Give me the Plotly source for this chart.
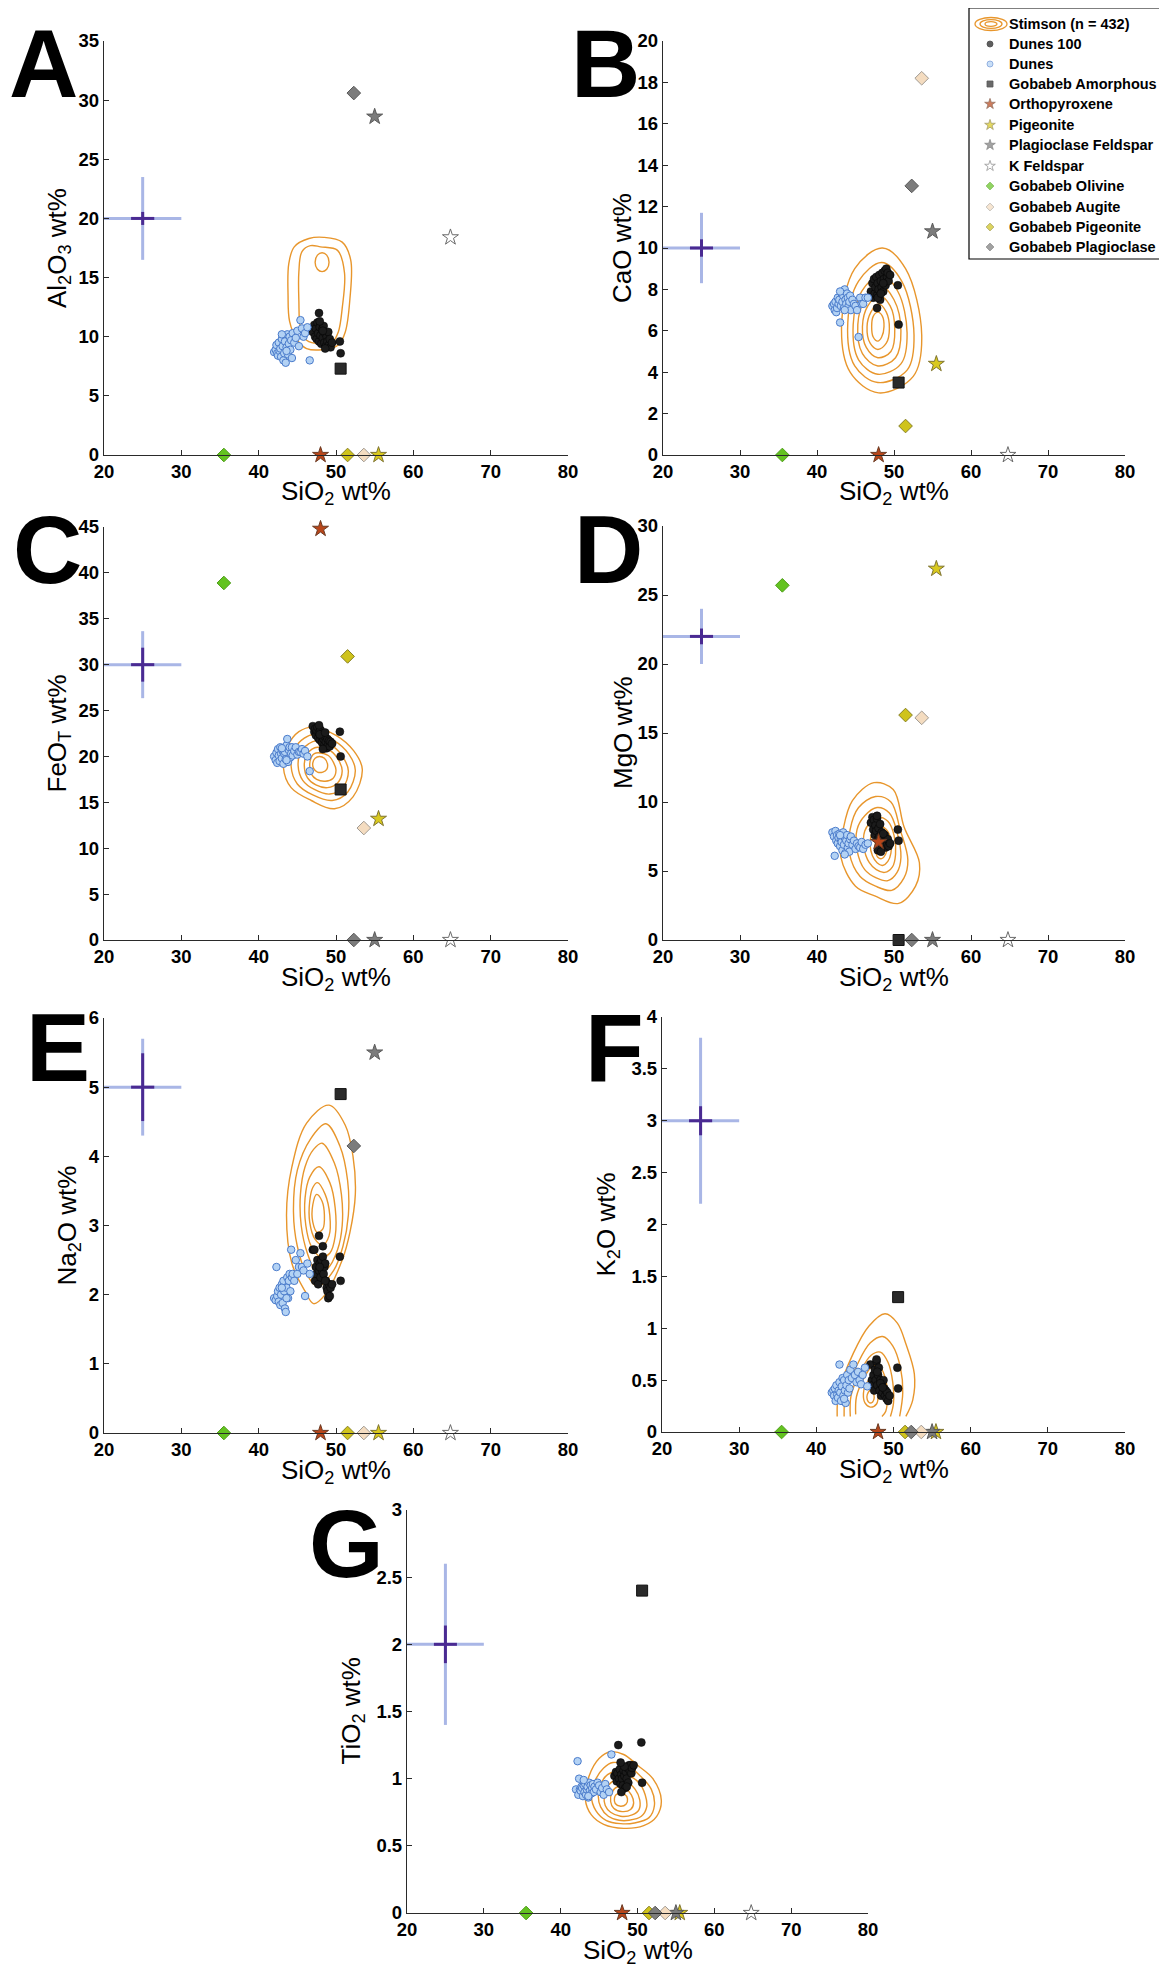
import plotly.graph_objects as go

# page geometry (the html body adds an 8 px margin, compensated below)
PAGE_W, PAGE_H = 1167, 1969
OFF = 8
W, H = PAGE_W - OFF, PAGE_H - OFF
FONT = "Liberation Sans, Arial, Helvetica, sans-serif"

# ---------------- data ----------------
panel_letters = ["A", "B", "C", "D", "E", "F", "G"]
y_titles = ["Al<sub>2</sub>O<sub>3</sub> wt%", "CaO wt%", "FeO<sub>T</sub> wt%", "MgO wt%",
            "Na<sub>2</sub>O wt%", "K<sub>2</sub>O wt%", "TiO<sub>2</sub> wt%"]
x_title = "SiO<sub>2</sub> wt%"
y_max = [35, 20, 45, 30, 6, 4, 3]
y_dtick = [5, 2, 5, 5, 1, 0.5, 0.5]
x_ticks = [20, 30, 40, 50, 60, 70, 80]

# Dunes 100 (black)
d100_sio2 = [47.0, 47.2, 47.3, 47.4, 47.5, 47.6, 47.7, 47.8, 47.9, 48.0, 48.1, 48.2, 48.3, 48.4, 48.5,
             48.6, 48.7, 48.8, 48.9, 49.0, 49.1, 49.2, 49.3, 49.5, 47.9, 48.3, 48.6, 47.8, 50.5, 50.6]
d100_al2o3 = [10.4, 11.0, 10.0, 10.7, 9.8, 11.2, 10.3, 9.6, 10.8, 10.1, 9.4, 10.6, 9.9, 10.9, 9.5,
              10.3, 9.2, 10.0, 9.6, 10.4, 9.3, 9.8, 9.1, 9.5, 11.3, 10.5, 9.0, 12.0, 9.6, 8.6]
d100_cao = [7.9, 8.3, 7.6, 8.5, 7.8, 8.1, 8.6, 7.7, 8.3, 8.0, 8.7, 7.5, 8.4, 8.1, 8.8,
            7.9, 8.5, 8.9, 8.2, 9.0, 8.6, 8.8, 8.4, 8.7, 7.6, 7.8, 8.3, 7.1, 8.2, 6.3]
d100_feot = [23.3, 22.7, 23.0, 22.3, 22.8, 23.2, 22.0, 22.6, 21.8, 22.9, 22.2, 21.5, 22.5, 21.9, 21.2,
             22.1, 21.6, 20.9, 21.9, 21.3, 21.7, 21.1, 21.6, 21.4, 22.4, 20.8, 22.6, 23.4, 22.7, 20.0]
d100_mgo = [8.5, 8.9, 8.0, 8.7, 7.6, 8.3, 7.9, 8.8, 7.3, 8.1, 7.5, 8.4, 7.1, 7.8, 6.8,
            7.4, 7.0, 7.6, 6.7, 7.2, 6.9, 7.3, 6.8, 7.0, 6.5, 6.4, 7.7, 9.0, 8.0, 7.2]
d100_na2o = [2.65, 2.65, 2.2, 2.4, 2.3, 2.5, 2.15, 2.35, 2.45, 2.25, 2.5, 2.35, 2.55, 2.3, 2.4,
             2.45, 2.2, 2.1, 2.05, 1.95, 2.15, 1.98, 2.1, 2.15, 2.4, 2.7, 2.2, 2.85, 2.55, 2.2]
d100_k2o = [0.65, 0.5, 0.45, 0.55, 0.4, 0.6, 0.5, 0.68, 0.45, 0.55, 0.62, 0.4, 0.5, 0.35, 0.45,
            0.38, 0.5, 0.42, 0.35, 0.4, 0.32, 0.38, 0.3, 0.35, 0.58, 0.47, 0.43, 0.7, 0.62, 0.42]
d100_tio2 = [1.02, 1.05, 0.98, 1.04, 1.25, 1.0, 1.07, 0.96, 1.03, 1.0, 0.95, 1.06, 1.02, 0.93, 1.05,
             1.0, 1.08, 0.97, 1.1, 1.06, 1.1, 1.04, 1.08, 1.1, 0.9, 1.09, 0.94, 1.12, 1.27, 0.97]

# Dunes (light blue)
du_sio2 = [42.0, 42.2, 42.3, 42.4, 42.5, 42.6, 42.7, 42.8, 42.9, 43.0, 43.1, 43.2, 43.3, 43.4, 43.5, 43.6,
           43.7, 43.8, 43.9, 44.0, 44.1, 44.2, 44.3, 44.4, 44.6, 44.8, 45.0, 45.2, 45.4, 45.6, 45.8, 46.0,
           46.3, 46.6, 43.0, 43.6]
du_al2o3 = [8.7, 8.9, 9.3, 8.6, 8.4, 9.5, 8.8, 9.0, 8.3, 9.8, 9.2, 8.0, 8.6, 9.6, 7.8, 9.1,
            10.2, 8.5, 9.4, 10.0, 8.9, 9.7, 8.2, 10.3, 9.5, 9.9, 10.5, 9.2, 11.4, 10.7, 10.0, 10.3,
            10.8, 8.0, 10.2, 8.8]
du_cao = [7.2, 7.3, 7.0, 7.4, 6.9, 7.1, 7.6, 7.3, 7.5, 6.4, 7.2, 7.8, 7.4, 7.7, 7.1, 8.0,
          7.5, 7.3, 7.8, 7.6, 7.2, 7.4, 7.7, 7.0, 7.5, 7.3, 7.2, 7.0, 5.7, 7.6, 7.3, 7.3,
          7.6, 7.6, 7.9, 7.0]
du_feot = [20.0, 19.6, 20.4, 19.3, 20.8, 20.1, 19.5, 21.0, 20.3, 19.8, 20.6, 19.2, 20.3, 20.5, 19.7, 21.2,
           21.9, 19.4, 20.7, 21.0, 19.9, 20.3, 21.0, 20.1, 20.6, 21.0, 20.2, 20.5, 20.5, 20.8, 20.3, 20.6,
           20.0, 18.4, 20.9, 19.6]
du_mgo = [7.8, 7.5, 6.1, 7.9, 7.2, 7.6, 7.0, 7.4, 7.7, 6.8, 7.3, 7.1, 6.5, 7.8, 6.9, 7.4,
          6.3, 7.2, 7.6, 6.7, 7.0, 6.4, 7.3, 7.5, 6.9, 7.2, 6.6, 7.0, 6.8, 6.7, 7.1, 6.6,
          6.9, 7.0, 7.6, 6.2]
du_na2o = [1.95, 1.92, 2.4, 1.98, 2.05, 1.9, 2.1, 1.85, 2.0, 2.15, 1.88, 2.2, 2.05, 1.8, 1.75, 2.1,
           2.25, 1.95, 2.2, 2.3, 2.05, 2.65, 2.25, 2.3, 2.2, 2.5, 2.3, 2.4, 2.6, 2.4, 2.35, 1.98,
           2.45, 2.3, 2.1, 1.95]
du_k2o = [0.38, 0.4, 0.35, 0.42, 0.3, 0.45, 0.36, 0.33, 0.4, 0.48, 0.38, 0.3, 0.44, 0.52, 0.35, 0.5,
          0.4, 0.28, 0.45, 0.55, 0.38, 0.5, 0.42, 0.6, 0.52, 0.65, 0.55, 0.48, 0.58, 0.5, 0.46, 0.55,
          0.62, 0.44, 0.65, 0.32]
du_tio2 = [0.92, 1.13, 0.88, 1.0, 0.92, 0.91, 0.94, 0.93, 0.87, 0.95, 0.9, 0.96, 0.88, 0.92, 0.94, 0.86,
           0.97, 0.91, 0.95, 0.89, 0.93, 0.96, 0.9, 0.94, 0.92, 0.97, 0.95, 0.9, 0.93, 0.88, 0.96, 0.92,
           0.9, 1.18, 0.99, 0.87]

# Minerals / reference compositions
mineral_names = ["Gobabeb Amorphous", "Orthopyroxene", "Pigeonite", "Plagioclase Feldspar", "K Feldspar",
                 "Gobabeb Olivine", "Gobabeb Augite", "Gobabeb Pigeonite", "Gobabeb Plagioclase"]
mineral_sio2 = [50.6, 48.0, 55.5, 55.0, 64.8, 35.5, 53.6, 51.5, 52.3]
mineral_al2o3 = [7.3, 0, 0, 28.6, 18.4, 0, 0, 0, 30.6]
mineral_cao = [3.5, 0, 4.4, 10.8, 0, 0, 18.2, 1.4, 13.0]
mineral_feot = [16.4, 44.8, 13.2, 0, 0, 38.9, 12.2, 30.9, 0]
mineral_mgo = [0, 7.1, 26.9, 0, 0, 25.7, 16.1, 16.3, 0]
mineral_na2o = [4.9, 0, 0, 5.5, 0, 0, 0, 0, 4.15]
mineral_k2o = [1.3, 0, 0, 0, None, 0, 0, 0, 0]
mineral_tio2 = [2.4, 0, 0, 0, 0, 0, 0, 0, 0]

# Uncertainty cross (centre and half-widths)
cross_x = 25
cross_xerr_outer = 5
cross_xerr_inner = 1.5
cross_y = [20, 10, 30, 22, 5, 3, 2]
cross_yerr_outer = [3.5, 1.7, 3.65, 2.0, 0.7, 0.8, 0.6]
cross_yerr_inner = [0.55, 0.42, 1.85, 0.57, 0.49, 0.14, 0.14]

# Stimson density contours (rings, SiO2 vs oxide)
stimson_A = [
    [(48.4, 18.4), (50.8, 18.0), (51.9, 16.5), (51.8, 13.2), (51.2, 10.4), (50.3, 9.3), (48.2, 8.9), (46.2, 9.0),
     (45.0, 9.7), (44.0, 11.3), (43.8, 13.5), (43.9, 16.2), (44.6, 17.6), (46.5, 18.3)],
    [(48.0, 17.6), (50.2, 17.3), (51.1, 15.4), (50.8, 12.4), (50.3, 10.4), (49.6, 9.6), (47.9, 9.4), (46.2, 9.7),
     (45.4, 10.8), (45.2, 13.0), (45.2, 15.5), (45.6, 17.2), (46.7, 17.7)],
    [(48.2, 17.1), (48.8, 16.9), (49.1, 16.3), (48.8, 15.7), (48.2, 15.5), (47.6, 15.7), (47.3, 16.3), (47.6, 16.9)],
]
stimson_B = [
    [(48.5, 10.0), (51.5, 9.0), (53.6, 5.8), (52.5, 3.8), (48.0, 3.0), (44.3, 4.0), (43.2, 6.4), (44.9, 9.0)],
    [(48.4, 9.3), (51.0, 8.4), (52.6, 5.8), (51.7, 4.1), (47.9, 3.5), (44.9, 4.3), (44.0, 6.4), (45.4, 8.4)],
    [(48.3, 8.7), (50.5, 7.9), (51.7, 5.9), (50.9, 4.4), (47.9, 3.9), (45.4, 4.6), (44.7, 6.3), (45.8, 7.9)],
    [(48.2, 8.2), (50.0, 7.5), (50.9, 6.0), (50.2, 4.7), (47.9, 4.3), (45.9, 4.9), (45.3, 6.3), (46.2, 7.5)],
    [(48.1, 7.7), (49.5, 7.2), (50.1, 6.1), (49.6, 5.0), (47.9, 4.7), (46.4, 5.2), (45.9, 6.2), (46.6, 7.2)],
    [(48.0, 7.3), (49.0, 6.9), (49.4, 6.1), (49.0, 5.4), (47.9, 5.1), (46.9, 5.4), (46.5, 6.2), (47.0, 6.9)],
    [(47.9, 6.9), (48.5, 6.7), (48.7, 6.2), (48.4, 5.7), (47.9, 5.5), (47.3, 5.7), (47.1, 6.2), (47.3, 6.7)],
]
stimson_C = [
    [(47.0, 23.2), (50.0, 22.3), (52.3, 20.6), (53.4, 18.6), (52.2, 15.6), (49.8, 14.3), (46.8, 15.2), (44.2, 16.6),
     (43.2, 18.8), (43.8, 21.2), (45.2, 22.7)],
    [(47.2, 22.4), (49.8, 21.7), (51.7, 20.2), (52.5, 18.5), (51.5, 16.1), (49.5, 15.2), (47.0, 15.8), (45.0, 17.0),
     (44.2, 18.9), (44.7, 20.9), (45.9, 22.0)],
    [(47.4, 21.7), (49.6, 21.1), (51.0, 19.8), (51.6, 18.4), (50.9, 16.6), (49.2, 15.9), (47.2, 16.4), (45.7, 17.4),
     (45.1, 19.0), (45.5, 20.6), (46.5, 21.4)],
    [(47.6, 21.0), (49.3, 20.6), (50.4, 19.5), (50.8, 18.4), (50.2, 17.1), (48.9, 16.6), (47.4, 16.9), (46.3, 17.7),
     (45.9, 19.0), (46.2, 20.2), (46.9, 20.8)],
    [(47.7, 20.4), (49.0, 20.1), (49.7, 19.3), (50.0, 18.5), (49.6, 17.6), (48.6, 17.3), (47.5, 17.5), (46.8, 18.1),
     (46.6, 19.1), (46.8, 19.9), (47.2, 20.3)],
    [(47.85, 20.0), (48.5, 19.8), (48.9, 19.2), (48.8, 18.6), (48.3, 18.3), (47.6, 18.3), (47.1, 18.7), (47.0, 19.3),
     (47.3, 19.8)],
]
stimson_D = [
    [(47.4, 11.4), (49.9, 10.9), (51.3, 8.2), (53.3, 5.6), (52.8, 3.9), (50.6, 2.65), (47.5, 3.2), (45.0, 3.9),
     (43.1, 6.0), (43.4, 8.0), (44.6, 10.1)],
    [(47.6, 10.4), (49.6, 10.0), (50.8, 8.0), (51.8, 5.8), (51.3, 4.5), (49.7, 3.6), (47.6, 3.9), (45.6, 4.6),
     (44.2, 6.3), (44.3, 8.0), (45.4, 9.6)],
    [(47.8, 9.6), (49.4, 9.2), (50.4, 7.8), (50.9, 6.0), (50.4, 4.9), (49.2, 4.3), (47.7, 4.5), (46.2, 5.1),
     (45.2, 6.5), (45.2, 8.0), (46.2, 9.0)],
    [(47.9, 8.9), (49.2, 8.6), (50.0, 7.6), (50.2, 6.2), (49.8, 5.3), (48.8, 4.9), (47.7, 5.1), (46.8, 5.6),
     (46.1, 6.7), (46.2, 7.9), (46.9, 8.5)],
    [(48.0, 8.3), (49.0, 8.0), (49.6, 7.3), (49.6, 6.3), (49.2, 5.7), (48.5, 5.4), (47.8, 5.6), (47.2, 6.1),
     (46.9, 6.9), (47.1, 7.7), (47.5, 8.1)],
    [(48.1, 7.6), (48.8, 7.4), (49.1, 6.8), (48.9, 6.2), (48.4, 5.9), (47.9, 6.0), (47.6, 6.5), (47.6, 7.1),
     (47.8, 7.5)],
]
stimson_E = [
    [(49.1, 4.74), (51.2, 4.45), (52.2, 4.0), (52.5, 3.45), (51.8, 2.9), (50.8, 2.5), (48.6, 2.0), (47.1, 1.87),
     (46.0, 2.05), (44.3, 2.45), (43.6, 3.15), (44.3, 3.85), (46.2, 4.48)],
    [(48.7, 4.47), (50.5, 4.15), (51.5, 3.65), (51.6, 3.15), (50.9, 2.7), (49.7, 2.35), (47.6, 2.12), (46.2, 2.3),
     (45.0, 2.7), (44.5, 3.2), (45.0, 3.8), (46.7, 4.25)],
    [(48.2, 4.19), (49.8, 3.9), (50.7, 3.45), (50.8, 3.0), (50.2, 2.65), (48.9, 2.38), (47.4, 2.35), (46.3, 2.6),
     (45.5, 3.0), (45.4, 3.45), (46.0, 3.85), (47.1, 4.1)],
    [(47.8, 3.85), (49.2, 3.62), (49.9, 3.25), (49.9, 2.85), (49.2, 2.6), (48.0, 2.55), (46.8, 2.7), (46.1, 3.0),
     (46.0, 3.4), (46.6, 3.7)],
    [(47.6, 3.62), (48.6, 3.45), (49.2, 3.15), (49.1, 2.85), (48.3, 2.72), (47.3, 2.8), (46.6, 3.05), (46.6, 3.35),
     (47.0, 3.55)],
    [(47.5, 3.45), (48.2, 3.35), (48.5, 3.15), (48.3, 2.95), (47.6, 2.9), (47.0, 3.05), (47.0, 3.3)],
]
stimson_F = [
    [(42.7, 0.15), (42.9, 0.38), (44.8, 0.76), (46.8, 1.02), (48.9, 1.14), (50.5, 1.05), (51.6, 0.85), (52.7, 0.56),
     (52.5, 0.31), (51.6, 0.15)],
    [(43.6, 0.15), (43.8, 0.37), (45.3, 0.65), (47.0, 0.86), (48.6, 0.92), (49.9, 0.83), (50.9, 0.62), (51.2, 0.38),
     (50.8, 0.15)],
    [(44.4, 0.15), (44.5, 0.35), (45.7, 0.58), (47.1, 0.74), (48.3, 0.77), (49.3, 0.67), (49.9, 0.48), (50.0, 0.28),
     (49.6, 0.15)],
    [(45.1, 0.17), (45.2, 0.34), (46.1, 0.51), (47.2, 0.63), (48.1, 0.64), (48.9, 0.53), (49.2, 0.37), (49.0, 0.2),
     (48.5, 0.15)],
    [(47.0, 0.5), (47.7, 0.46), (48.0, 0.37), (47.8, 0.27), (47.0, 0.24), (46.3, 0.28), (46.1, 0.37), (46.4, 0.46)],
    [(47.0, 0.4), (47.4, 0.37), (47.5, 0.33), (47.3, 0.29), (46.9, 0.28), (46.6, 0.31), (46.6, 0.36)],
]
stimson_F_open_rings = 4
stimson_G = [
    [(46.5, 1.2), (48.2, 1.18), (50.0, 1.1), (52.0, 1.0), (53.1, 0.84), (52.5, 0.72), (50.8, 0.65), (48.2, 0.63),
     (45.6, 0.66), (44.0, 0.73), (43.2, 0.85), (43.7, 1.02), (45.0, 1.15)],
    [(46.8, 1.12), (48.5, 1.1), (50.2, 1.03), (51.8, 0.92), (52.2, 0.8), (51.5, 0.71), (49.6, 0.67), (47.8, 0.665),
     (45.9, 0.69), (44.6, 0.76), (44.0, 0.87), (44.6, 1.0), (45.6, 1.08)],
    [(47.0, 1.05), (48.6, 1.03), (50.2, 0.97), (51.0, 0.88), (51.2, 0.79), (50.5, 0.72), (48.9, 0.69), (47.6, 0.69),
     (46.2, 0.72), (45.2, 0.79), (44.9, 0.88), (45.4, 0.98), (46.1, 1.03)],
    [(47.2, 0.99), (48.5, 0.98), (49.7, 0.92), (50.3, 0.84), (50.2, 0.77), (49.3, 0.73), (47.8, 0.72), (46.5, 0.75),
     (45.8, 0.8), (45.7, 0.88), (46.2, 0.95)],
    [(47.4, 0.94), (48.4, 0.93), (49.2, 0.88), (49.5, 0.82), (49.1, 0.77), (48.0, 0.755), (46.9, 0.78), (46.5, 0.83),
     (46.7, 0.9)],
    [(47.6, 0.89), (48.3, 0.885), (48.7, 0.85), (48.5, 0.81), (47.8, 0.795), (47.1, 0.815), (47.0, 0.855),
     (47.2, 0.88)],
]

legend_labels = ["Stimson (n = 432)", "Dunes 100", "Dunes", "Gobabeb Amorphous", "Orthopyroxene", "Pigeonite",
                 "Plagioclase Feldspar", "K Feldspar", "Gobabeb Olivine", "Gobabeb Augite",
                 "Gobabeb Pigeonite", "Gobabeb Plagioclase"]

# ---------------- styles / layout ----------------
STIMSON = "#E8962C"
LIGHT_X = "#A9B6E6"
DARK_X = "#4A2A92"
d100_by_panel = [d100_al2o3, d100_cao, d100_feot, d100_mgo, d100_na2o, d100_k2o, d100_tio2]
du_by_panel = [du_al2o3, du_cao, du_feot, du_mgo, du_na2o, du_k2o, du_tio2]
min_by_panel = [mineral_al2o3, mineral_cao, mineral_feot, mineral_mgo, mineral_na2o, mineral_k2o, mineral_tio2]
stimson_by_panel = [stimson_A, stimson_B, stimson_C, stimson_D, stimson_E, stimson_F, stimson_G]

mineral_symbol = ["square", "star", "star", "star", "star", "diamond", "diamond", "diamond", "diamond"]
mineral_fill = ["#2a2a2a", "#b8461a", "#d9c91f", "#7c7c7c", "#ffffff", "#63c320", "#f4dcc0", "#cfc31c", "#7c7c7c"]
mineral_edge = ["#111111", "#6b3a22", "#7f7430", "#5a5a5a", "#6a6a6a", "#4e9d18", "#a09a92", "#878024", "#5a5a5a"]
mineral_size = [11, 12, 12, 12, 12, 10.5, 10.5, 10.5, 10.5]

# plot areas in page pixels: (x_left, x_right, y_top, y_bottom)
panel_box = [(104, 568, 41, 455), (663, 1125, 41, 455),
             (104, 568, 527, 940), (663, 1125, 526, 940),
             (104, 568, 1018, 1433), (662, 1125, 1017, 1432),
             (407, 868, 1510, 1913)]
letter_pos = [(43, 63), (605, 63), (47, 549), (608, 549), (58, 1047), (615, 1047), (346, 1543)]
LETTER_SIZE = 96
ytitle_x = [58, 622, 58, 623, 68, 607, 352]


def px(xp):
    return (xp - OFF) / W


def py(yp):
    return 1 - (yp - OFF) / H


fig = go.Figure()
annotations = []
layout_axes = {}

for i in range(7):
    sfx = "" if i == 0 else str(i + 1)
    xa, ya = "x" + sfx, "y" + sfx
    x0, x1, y0, y1 = panel_box[i]

    # Stimson contours
    for k, ring in enumerate(stimson_by_panel[i]):
        xs = [p[0] for p in ring]
        ys = [p[1] for p in ring]
        closed = not (i == 5 and k < stimson_F_open_rings)
        if closed:
            xs = xs + [xs[0]]
            ys = ys + [ys[0]]
        fig.add_trace(go.Scatter(x=xs, y=ys, mode="lines", xaxis=xa, yaxis=ya,
                                 line=dict(color=STIMSON, width=1.4, shape="spline", smoothing=1.0),
                                 hoverinfo="skip", showlegend=False))

    # Dunes 100
    fig.add_trace(go.Scatter(x=d100_sio2, y=d100_by_panel[i], mode="markers", xaxis=xa, yaxis=ya,
                             marker=dict(size=8, color="#1b1b1b", line=dict(color="#000000", width=0.5)),
                             showlegend=False, cliponaxis=False))
    # Dunes
    fig.add_trace(go.Scatter(x=du_sio2, y=du_by_panel[i], mode="markers", xaxis=xa, yaxis=ya,
                             marker=dict(size=7.5, color="#B3D2F4", line=dict(color="#4A7BCB", width=1)),
                             showlegend=False, cliponaxis=False))
    # minerals
    vals = min_by_panel[i]
    for m in range(len(mineral_names)):
        if vals[m] is None:
            continue
        fig.add_trace(go.Scatter(x=[mineral_sio2[m]], y=[vals[m]], mode="markers", xaxis=xa, yaxis=ya,
                                 marker=dict(symbol=mineral_symbol[m], size=mineral_size[m], color=mineral_fill[m],
                                             line=dict(color=mineral_edge[m], width=1)),
                                 name=mineral_names[m], showlegend=False, cliponaxis=False))
    # uncertainty cross
    fig.add_trace(go.Scatter(x=[cross_x], y=[cross_y[i]], mode="markers", xaxis=xa, yaxis=ya,
                             marker=dict(size=1, color="rgba(0,0,0,0)"),
                             error_x=dict(type="constant", value=cross_xerr_outer, color=LIGHT_X, thickness=3, width=0),
                             error_y=dict(type="constant", value=cross_yerr_outer[i], color=LIGHT_X, thickness=3, width=0),
                             showlegend=False, hoverinfo="skip", cliponaxis=False))
    fig.add_trace(go.Scatter(x=[cross_x], y=[cross_y[i]], mode="markers", xaxis=xa, yaxis=ya,
                             marker=dict(size=1, color="rgba(0,0,0,0)"),
                             error_x=dict(type="constant", value=cross_xerr_inner, color=DARK_X, thickness=3, width=0),
                             error_y=dict(type="constant", value=cross_yerr_inner[i], color=DARK_X, thickness=3, width=0),
                             showlegend=False, hoverinfo="skip", cliponaxis=False))

    common = dict(showline=True, linecolor="#2a2a2a", linewidth=1.3, ticks="inside", ticklen=5,
                  tickwidth=1.2, tickcolor="#2a2a2a", showgrid=False, zeroline=False, automargin=False,
                  tickfont=dict(family=FONT, size=18.5, color="#000000", weight="bold"), mirror=False)
    layout_axes["xaxis" + sfx] = dict(domain=[px(x0), px(x1)], anchor=ya, range=[20, 80], tickvals=x_ticks,
                                      **common)
    layout_axes["yaxis" + sfx] = dict(domain=[py(y1), py(y0)], anchor=xa, range=[0, y_max[i]],
                                      tick0=0, dtick=y_dtick[i], **common)

    # titles
    annotations.append(dict(text=x_title, x=px((x0 + x1) / 2), y=py(y1 + 38), xref="paper", yref="paper",
                            xanchor="center", yanchor="middle", showarrow=False,
                            font=dict(family=FONT, size=26, color="#000000")))
    annotations.append(dict(text=y_titles[i], x=px(ytitle_x[i]), y=py((y0 + y1) / 2), xref="paper", yref="paper",
                            xanchor="center", yanchor="middle", showarrow=False, textangle=-90,
                            font=dict(family=FONT, size=26, color="#000000")))
    lx, ly = letter_pos[i]
    annotations.append(dict(text=panel_letters[i], x=px(lx), y=py(ly), xref="paper", yref="paper",
                            xanchor="center", yanchor="middle", showarrow=False,
                            font=dict(family=FONT, size=LETTER_SIZE, color="#000000", weight="bold")))

# ---------------- legend (manual) ----------------
LX0, LX1, LY0, LY1 = 969, 1164, 8, 259
row_y = [24, 44, 64, 84, 104, 125, 145, 166, 186, 207, 227, 247]
icon_x = 990
layout_axes["xaxis8"] = dict(domain=[px(LX0), px(LX1)], range=[LX0, LX1], visible=False, anchor="y8",
                             fixedrange=True)
layout_axes["yaxis8"] = dict(domain=[py(LY1), py(LY0)], range=[LY1, LY0], visible=False, anchor="x8",
                             fixedrange=True)
leg_sym = ["circle", "circle"] + mineral_symbol
leg_fill = ["#1b1b1b", "#B3D2F4"] + mineral_fill
leg_edge = ["#000000", "#4A7BCB"] + mineral_edge
leg_size = [6, 6] + [6, 8, 8, 8, 8, 6, 6, 6, 6]
fig.add_trace(go.Scatter(x=[icon_x] * 11, y=row_y[1:], mode="markers", xaxis="x8", yaxis="y8",
                         marker=dict(symbol=leg_sym, size=leg_size, color=leg_fill,
                                     line=dict(color=leg_edge, width=0.8)),
                         showlegend=False, hoverinfo="skip", cliponaxis=False))
shapes = [dict(type="rect", xref="paper", yref="paper", x0=px(LX0), x1=px(LX1), y0=py(LY1), y1=py(LY0),
               line=dict(color="#000000", width=1.2), fillcolor="rgba(255,255,255,0)")]
for (hw, hh) in [(16, 6.5), (11, 4.3), (6, 2.3)]:
    shapes.append(dict(type="circle", xref="x8", yref="y8", x0=991 - hw, x1=991 + hw,
                       y0=row_y[0] - hh, y1=row_y[0] + hh, line=dict(color=STIMSON, width=1.3)))
for r, lab in enumerate(legend_labels):
    annotations.append(dict(text=lab, x=px(1007), y=py(row_y[r]), xref="paper", yref="paper",
                            xanchor="left", yanchor="middle", showarrow=False,
                            font=dict(family=FONT, size=14.5, color="#000000", weight="bold")))

fig.update_layout(width=W, height=H, margin=dict(l=0, r=0, t=0, b=0),
                  paper_bgcolor="white", plot_bgcolor="white", showlegend=False,
                  annotations=annotations, shapes=shapes, **layout_axes)

fig.write_html("out.html")
